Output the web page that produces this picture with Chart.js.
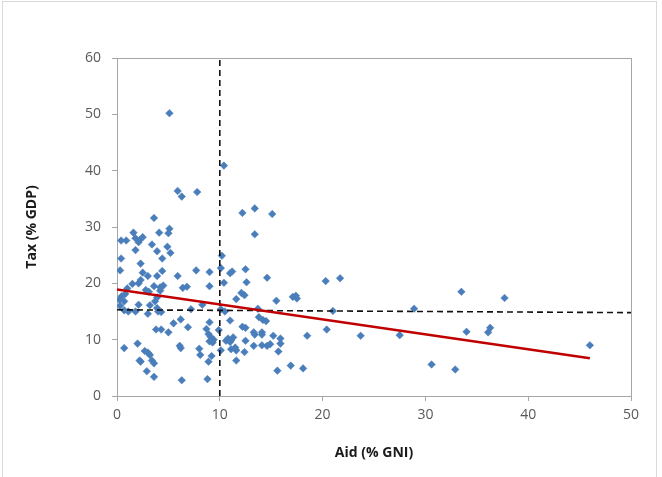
<!DOCTYPE html>
<html>
<head>
<meta charset="utf-8">
<script src="https://cdn.jsdelivr.net/npm/chart.js@4.4.1/dist/chart.umd.min.js"></script>
<style>
  html, body { margin: 0; padding: 0; background: #fff; }
  #wrap { position: relative; width: 662px; height: 477px; }
  #frame { position: absolute; left: 2px; top: 1px; width: 655px; height: 480px; border: 1px solid #d9d9d9; box-sizing: border-box; pointer-events: none; }
</style>
</head>
<body>
<div id="wrap">
  <canvas id="chart" width="662" height="477"></canvas>
  <div id="frame"></div>
</div>
<script>
// ---------- DATA ----------
const aidX = [
  5.1, 10.4, 5.9, 6.3, 7.8, 3.6, 13.4, 12.2, 15.1, 13.4,
  1.6, 4.1, 5.1, 5.0, 0.4, 0.9, 1.8, 2.2, 2.5, 2.1,
  1.8, 3.4, 3.9, 4.9, 5.2, 0.4, 2.3, 4.4, 10.2, 10.1,
  0.3, 2.5, 3.0, 3.9, 4.4, 5.9, 7.7, 9.0, 11.0, 11.2,
  12.5, 12.6, 14.6, 10.4, 20.3, 21.7, 1.0, 1.5, 2.1, 2.3,
  3.6, 4.2, 4.5, 6.4, 6.8, 9.0, 0.45, 0.8, 0.25, 0.7,
  2.8, 3.1, 4.2, 3.9, 12.1, 12.4, 11.6, 15.5, 17.1, 17.4,
  17.5, 33.5, 37.7, 0.3, 2.1, 3.2, 3.7, 3.9, 8.3, 0.7,
  1.1, 1.8, 3.0, 4.0, 4.3, 7.2, 13.7, 10.1, 10.5, 21.0,
  28.9, 11.0, 6.2, 5.5, 9.0, 13.8, 14.2, 14.5, 6.9, 3.8,
  4.3, 5.0, 8.7, 9.9, 12.2, 12.5, 13.3, 13.4, 14.1, 14.1,
  15.2, 15.9, 18.5, 20.4, 23.7, 27.5, 34.0, 36.1, 36.3, 46.0,
  8.9, 9.1, 10.8, 11.1, 11.3, 10.6, 11.0, 12.5, 9.0, 9.4,
  9.3, 2.0, 0.7, 6.1, 6.2, 8.0, 13.3, 14.1, 14.6, 14.9,
  15.9, 10.1, 11.1, 11.5, 11.6, 12.4, 15.7, 2.7, 3.0, 3.2,
  8.1, 9.2, 2.2, 2.3, 3.4, 3.6, 11.6, 8.9, 16.9, 18.1,
  15.6, 30.6, 32.9, 2.9, 3.6, 8.8, 6.3
];
const taxY = [
  50.2, 40.9, 36.4, 35.4, 36.2, 31.6, 33.3, 32.5, 32.3, 28.7,
  29.0, 29.0, 29.7, 28.9, 27.6, 27.6, 28.0, 27.7, 28.2, 27.3,
  25.9, 26.9, 25.7, 26.5, 25.4, 24.4, 23.5, 24.4, 24.9, 22.7,
  22.3, 21.9, 21.3, 21.3, 22.2, 21.3, 22.3, 22.0, 21.8, 22.1,
  22.5, 20.2, 21.0, 20.1, 20.4, 20.9, 19.1, 19.9, 20.0, 20.6,
  19.5, 19.3, 19.6, 19.2, 19.4, 19.5, 17.7, 18.1, 17.1, 16.8,
  18.8, 18.5, 18.7, 17.5, 18.3, 17.9, 17.2, 16.9, 17.6, 17.8,
  17.3, 18.5, 17.4, 16.0, 16.2, 16.1, 16.8, 15.6, 16.2, 15.2,
  15.0, 15.0, 14.6, 15.0, 14.9, 15.4, 15.5, 15.4, 15.0, 15.1,
  15.5, 13.4, 13.6, 12.9, 13.1, 14.0, 13.5, 13.3, 12.2, 11.8,
  11.8, 11.3, 11.9, 11.7, 12.3, 12.1, 11.3, 10.9, 11.3, 10.9,
  10.7, 10.2, 10.7, 11.8, 10.7, 10.8, 11.4, 11.3, 12.1, 9.0,
  11.0, 10.5, 10.2, 9.9, 10.4, 9.8, 9.6, 9.8, 9.7, 10.0,
  9.5, 9.3, 8.5, 8.9, 8.5, 8.4, 8.9, 9.0, 8.9, 9.2,
  9.3, 8.1, 8.3, 8.6, 8.1, 7.8, 7.9, 8.0, 7.7, 7.3,
  7.3, 7.1, 6.3, 6.1, 6.3, 5.8, 6.3, 6.1, 5.4, 4.9,
  4.5, 5.6, 4.7, 4.4, 3.4, 3.0, 2.8
];

// fitted trend and reference lines
const trendX = [0, 46];
const trendY = [18.9, 6.7];
const vRefX = [10, 10];
const vRefY = [0, 60];
const hRefX = [0, 50];
const hRefY = [15.3, 14.8];

const xTicks = [0, 10, 20, 30, 40, 50];
const yTicks = [0, 10, 20, 30, 40, 50, 60];

function toPoints(xs, ys) {
  return xs.map((x, i) => ({ x: x, y: ys[i] }));
}

// ---------- PLOT AREA BORDER ----------
const plotBorder = {
  id: 'plotBorder',
  beforeDatasetsDraw(chart) {
    const { ctx, chartArea: a } = chart;
    ctx.save();
    ctx.strokeStyle = '#a6a6a6';
    ctx.lineWidth = 1;
    ctx.strokeRect(a.left + 0.5, a.top + 0.5, a.right - a.left, a.bottom - a.top);
    ctx.restore();
  }
};

// ---------- CHART ----------
const tickFont = { family: 'Open Sans', size: 14 };
const titleFont = { family: 'Open Sans', size: 14, weight: 'bold' };

new Chart(document.getElementById('chart').getContext('2d'), {
  type: 'scatter',
  data: {
    datasets: [
      {
        label: 'Trend',
        type: 'line',
        data: toPoints(trendX, trendY),
        borderColor: '#c00000',
        borderWidth: 2.6,
        pointRadius: 0,
        fill: false,
        order: 1
      },
      {
        label: 'Aid mean',
        type: 'line',
        data: toPoints(vRefX, vRefY),
        borderColor: '#111111',
        borderWidth: 1.6,
        borderDash: [6, 4],
        pointRadius: 0,
        fill: false,
        order: 2
      },
      {
        label: 'Tax mean',
        type: 'line',
        data: toPoints(hRefX, hRefY),
        borderColor: '#111111',
        borderWidth: 1.6,
        borderDash: [6, 4],
        pointRadius: 0,
        fill: false,
        order: 2
      },
      {
        label: 'Countries',
        data: toPoints(aidX, taxY),
        pointStyle: 'rectRot',
        pointRadius: 3.8,
        backgroundColor: '#4a7ebb',
        borderColor: '#4a7ebb',
        borderWidth: 0.5,
        order: 3
      }
    ]
  },
  options: {
    responsive: false,
    animation: false,
    layout: { padding: { top: 58, right: 31, left: 0, bottom: 0 } },
    plugins: { legend: { display: false }, tooltip: { enabled: false } },
    scales: {
      x: {
        type: 'linear',
        min: 0,
        max: 50,
        afterBuildTicks: (s) => { s.ticks = xTicks.map(v => ({ value: v })); },
        afterFit: (s) => { s.height = 81; },
        grid: { display: true, drawOnChartArea: false, drawTicks: true, tickLength: 5, color: '#a6a6a6' },
        border: { color: '#a6a6a6' },
        ticks: { color: '#595959', font: tickFont, padding: 6, maxRotation: 0 },
        title: { display: true, text: 'Aid (% GNI)', color: '#1a1a1a', font: titleFont, padding: { top: 0, bottom: 16 } }
      },
      y: {
        type: 'linear',
        min: 0,
        max: 60,
        afterBuildTicks: (s) => { s.ticks = yTicks.map(v => ({ value: v })); },
        afterFit: (s) => { s.width = 117; },
        grid: { display: true, drawOnChartArea: false, drawTicks: true, tickLength: 5, color: '#a6a6a6' },
        border: { color: '#a6a6a6' },
        ticks: { color: '#595959', font: tickFont, padding: 11 },
        title: { display: true, text: 'Tax (% GDP)', color: '#1a1a1a', font: titleFont, padding: { top: 24, bottom: 0 } }
      }
    }
  },
  plugins: [plotBorder]
});
</script>
</body>
</html>
